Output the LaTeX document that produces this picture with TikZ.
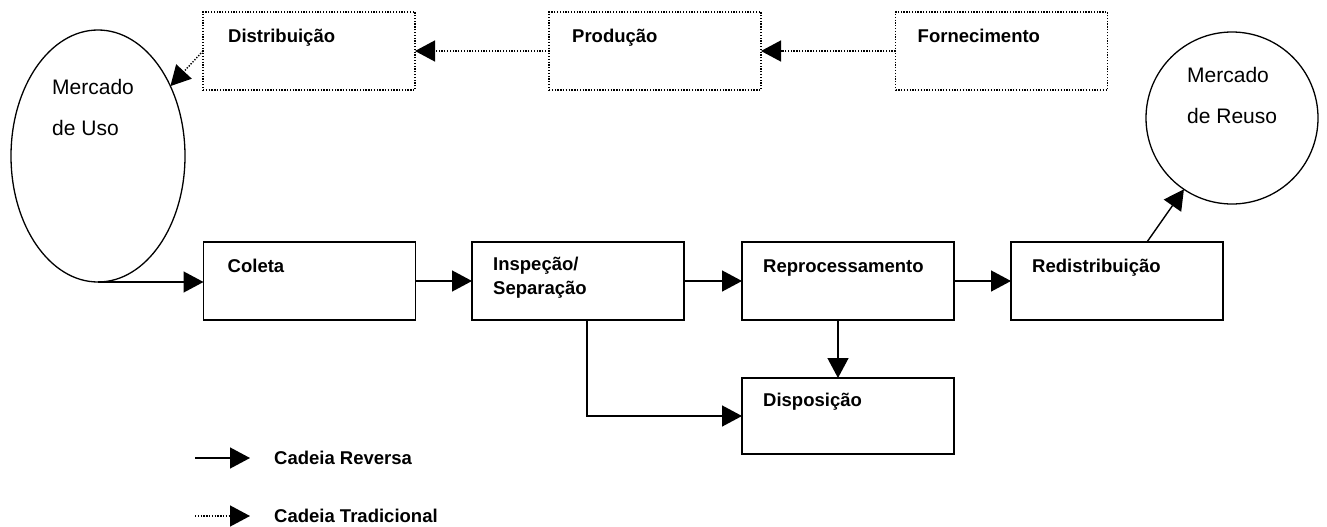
\documentclass[tikz,border=0pt]{standalone}
\usepackage{fontspec}
\setmainfont{Liberation Sans}
\usetikzlibrary{arrows.meta,shapes.geometric}
\begin{document}
\begin{tikzpicture}[x=1pt,y=-1pt,
  stagebox/.style={draw,line width=1.4pt,minimum width=212pt,minimum height=78pt,inner sep=0pt,outer sep=0pt},
  tradbox/.style={stagebox,dash pattern=on 1.3pt off 1.5pt},
  lbl/.style={font=\fontsize{18.5}{24}\selectfont\bfseries,inner sep=0pt,anchor=base west,align=left},
  mkt/.style={draw,line width=1.3pt,inner sep=0pt,outer sep=0pt},
  mktlbl/.style={font=\fontsize{21}{40.5}\selectfont,inner sep=0pt,anchor=base west,align=left},
  rev/.style={line width=1.4pt,-{Triangle[length=20pt,width=21pt]}},
  trad/.style={line width=1.4pt,dash pattern=on 1.3pt off 1.5pt,-{Triangle[length=20pt,width=21pt]}}]
\useasboundingbox (0,0) rectangle (1327,527);

% traditional chain
\node[tradbox] (dist) at (309,51) {};
\node[tradbox] (prod) at (655,51) {};
\node[tradbox] (forn) at (1001.5,51) {};
\node[lbl] (dist-t) at ([shift={(25,31)}]dist.north west) {Distribuição};
\node[lbl] (prod-t) at ([shift={(23,31)}]prod.north west) {Produção};
\node[lbl] (forn-t) at ([shift={(22,31)}]forn.north west) {Fornecimento};

% markets (two-line labels are placed by the baseline of their last line)
\node[mkt,ellipse,minimum width=174pt,minimum height=252pt] (uso) at (98,156) {};
\node[mktlbl] (uso-t) at (52,135) {Mercado\\de Uso};
\node[mkt,circle,minimum size=172pt] (reuso) at (1232,118) {};
\node[mktlbl] (reuso-t) at (1187,123) {Mercado\\de Reuso};

% reverse chain
\node[stagebox] (coleta) at (309.5,281) {};
\node[stagebox] (insp) at (578,281) {};
\node[stagebox] (repro) at (848,281) {};
\node[stagebox] (redist) at (1117,281) {};
\node[stagebox,minimum height=76pt] (disp) at (848,416) {};
\node[lbl] (coleta-t) at ([shift={(24,30)}]coleta.north west) {Coleta};
\node[lbl] (insp-t) at ([shift={(21,52)}]insp.north west) {Inspeção/\\Separação};
\node[lbl] (repro-t) at ([shift={(21,30)}]repro.north west) {Reprocessamento};
\node[lbl] (redist-t) at ([shift={(21,30)}]redist.north west) {Redistribuição};
\node[lbl] (disp-t) at ([shift={(21,28)}]disp.north west) {Disposição};

% traditional flow
\draw[trad] (forn.west) -- (prod.east);
\draw[trad] (prod.west) -- (dist.east);
\draw[trad] (dist.west) -- (uso.44);

% reverse flow
\draw[rev] (uso.south) -- (uso.south -| coleta.west);
\draw[rev] (coleta.east) -- (insp.west);
\draw[rev] (insp.east) -- (repro.west);
\draw[rev] (repro.east) -- (redist.west);
\draw[rev] ([xshift=30pt]redist.north) -- (reuso.236);
\draw[rev] ([xshift=-10pt]repro.south) -- ([xshift=-10pt]disp.north);
\draw[rev] ([xshift=9pt]insp.south) |- (disp.west);

% legend
\coordinate (lr-a) at (195,458);
\coordinate (lr-b) at (250,458);
\coordinate (lt-a) at (195,516);
\coordinate (lt-b) at (250,516);
\draw[rev] (lr-a) -- (lr-b);
\draw[trad] (lt-a) -- (lt-b);
\node[lbl] (lr-t) at (274,464.5) {Cadeia Reversa};
\node[lbl] (lt-t) at (274,522.5) {Cadeia Tradicional};
\end{tikzpicture}
\end{document}
